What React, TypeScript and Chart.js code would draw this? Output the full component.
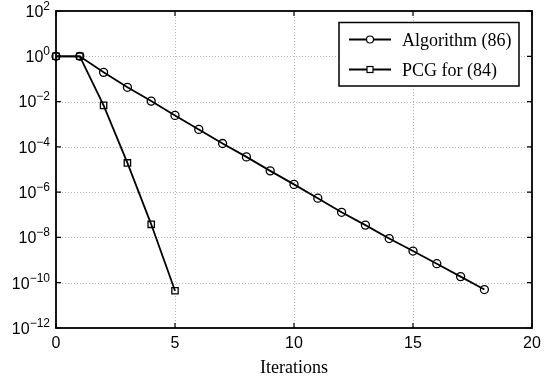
import React, { useEffect, useRef } from 'react';
import { Chart, registerables } from 'chart.js';

Chart.register(...registerables);

const algorithmIterations = [0, 1, 2, 3, 4, 5, 6, 7, 8, 9, 10, 11, 12, 13, 14, 15, 16, 17, 18];
const algorithmValues = [
  1, 1, 0.195, 0.0427, 0.0105, 2.45e-3, 5.9e-4, 1.41e-4, 3.6e-5, 8.7e-6, 2.2e-6,
  5.4e-7, 1.29e-7, 3.5e-8, 8.9e-9, 2.5e-9, 6.9e-10, 1.86e-10, 5.0e-11,
];
const pcgIterations = [0, 1, 2, 3, 4, 5];
const pcgValues = [1, 1, 6.8e-3, 1.95e-5, 3.8e-8, 4.4e-11];

const xTickValues = [0, 5, 10, 15, 20];
const yTickExponents = [2, 0, -2, -4, -6, -8, -10, -12];
const seriesLabels = ['Algorithm (86)', 'PCG for (84)'];
const xAxisTitle = 'Iterations';

const sup = (n: number) => String(n).replace('-', '\u2212');

const decorPlugin = {
  id: 'decor',
  beforeDatasetsDraw(chart: any) {
    const { ctx, chartArea } = chart;
    const { left, right, top, bottom } = chartArea;
    const xs = chart.scales.x;
    const ys = chart.scales.y;
    ctx.save();
    // grid
    ctx.strokeStyle = '#b5b5b5';
    ctx.lineWidth = 1;
    ctx.setLineDash([1, 2]);
    xTickValues.forEach((v) => {
      const px = Math.round(xs.getPixelForValue(v)) + 0.5;
      if (px <= left + 1 || px >= right - 1) return;
      ctx.beginPath();
      ctx.moveTo(px, top);
      ctx.lineTo(px, bottom);
      ctx.stroke();
    });
    yTickExponents.forEach((e) => {
      const py = Math.round(ys.getPixelForValue(Math.pow(10, e))) + 0.5;
      if (py <= top + 1 || py >= bottom - 1) return;
      ctx.beginPath();
      ctx.moveTo(left, py);
      ctx.lineTo(right, py);
      ctx.stroke();
    });
    ctx.setLineDash([]);
    // ticks (inward)
    ctx.strokeStyle = '#000';
    ctx.lineWidth = 1.2;
    const tl = 5;
    xTickValues.forEach((v) => {
      const px = xs.getPixelForValue(v);
      ctx.beginPath();
      ctx.moveTo(px, bottom);
      ctx.lineTo(px, bottom - tl);
      ctx.moveTo(px, top);
      ctx.lineTo(px, top + tl);
      ctx.stroke();
    });
    yTickExponents.forEach((e) => {
      const py = ys.getPixelForValue(Math.pow(10, e));
      ctx.beginPath();
      ctx.moveTo(left, py);
      ctx.lineTo(left + tl, py);
      ctx.moveTo(right, py);
      ctx.lineTo(right - tl, py);
      ctx.stroke();
    });
    // frame
    ctx.lineWidth = 1.8;
    ctx.strokeRect(left, top, right - left, bottom - top);
    // y labels
    ctx.fillStyle = '#000';
    yTickExponents.forEach((e) => {
      const py = ys.getPixelForValue(Math.pow(10, e));
      const base = '10';
      const ex = sup(e);
      ctx.font = '16px "Liberation Sans", Arial, sans-serif';
      const wb = ctx.measureText(base).width;
      ctx.font = '12px "Liberation Sans", Arial, sans-serif';
      const we = ctx.measureText(ex).width;
      const x0 = left - 6 - wb - we;
      ctx.textAlign = 'left';
      ctx.textBaseline = 'middle';
      ctx.font = '16px "Liberation Sans", Arial, sans-serif';
      ctx.fillText(base, x0, py + 1.5);
      ctx.font = '12px "Liberation Sans", Arial, sans-serif';
      ctx.fillText(ex, x0 + wb, py - 4.5);
    });
    // x labels
    ctx.font = '16px "Liberation Sans", Arial, sans-serif';
    ctx.textAlign = 'center';
    ctx.textBaseline = 'alphabetic';
    xTickValues.forEach((v) => {
      const px = xs.getPixelForValue(v);
      ctx.fillText(String(v), px, bottom + 20);
    });
    // title
    ctx.font = '18px "Liberation Serif", "Times New Roman", serif';
    ctx.fillText(xAxisTitle, (left + right) / 2, bottom + 44.5);
    ctx.restore();
  },
  afterDatasetsDraw(chart: any) {
    const { ctx, chartArea } = chart;
    const bx = chartArea.right - 193;
    const by = chartArea.top + 11.5;
    const bw = 180;
    const bh = 63.5;
    ctx.save();
    ctx.fillStyle = '#fff';
    ctx.fillRect(bx, by, bw, bh);
    ctx.strokeStyle = '#000';
    ctx.lineWidth = 1.5;
    ctx.strokeRect(bx, by, bw, bh);
    chart.data.datasets.forEach((ds: any, i: number) => {
      const ry = by + 17 + i * 30;
      ctx.strokeStyle = '#000';
      ctx.lineWidth = 1.8;
      ctx.beginPath();
      ctx.moveTo(bx + 10, ry);
      ctx.lineTo(bx + 52, ry);
      ctx.stroke();
      ctx.lineWidth = 1.2;
      const cx = bx + 31;
      ctx.fillStyle = '#fff';
      if (ds.pointStyle === 'circle') {
        ctx.beginPath();
        ctx.arc(cx, ry, 3.5, 0, Math.PI * 2);
        ctx.fill();
        ctx.stroke();
      } else {
        ctx.fillRect(cx - 3, ry - 3, 6, 6);
        ctx.strokeRect(cx - 3, ry - 3, 6, 6);
      }
      ctx.fillStyle = '#000';
      ctx.font = '18px "Liberation Serif", "Times New Roman", serif';
      ctx.textAlign = 'left';
      ctx.textBaseline = 'alphabetic';
      ctx.fillText(ds.label, bx + 63, ry + 6);
    });
    ctx.restore();
  },
};

export default function App() {
  const ref = useRef<HTMLCanvasElement | null>(null);
  useEffect(() => {
    if (!ref.current) return;
    const chart = new Chart(ref.current, {
      type: 'line',
      data: {
        datasets: [
          {
            label: seriesLabels[0],
            data: algorithmIterations.map((x, i) => ({ x, y: algorithmValues[i] })),
            borderColor: '#000',
            borderWidth: 1.8,
            pointStyle: 'circle',
            pointRadius: 4,
            pointBorderWidth: 1.3,
            pointBackgroundColor: 'rgba(0,0,0,0)',
            pointBorderColor: '#000',
            fill: false,
            tension: 0,
            clip: false,
          } as any,
          {
            label: seriesLabels[1],
            data: pcgIterations.map((x, i) => ({ x, y: pcgValues[i] })),
            borderColor: '#000',
            borderWidth: 1.8,
            pointStyle: 'rect',
            pointRadius: 4.5,
            pointBorderWidth: 1.3,
            pointBackgroundColor: 'rgba(0,0,0,0)',
            pointBorderColor: '#000',
            fill: false,
            tension: 0,
            clip: false,
          } as any,
        ],
      },
      options: {
        animation: false,
        responsive: false,
        layout: { padding: { left: 56, right: 13, top: 11, bottom: 51 } },
        plugins: { legend: { display: false }, tooltip: { enabled: false } },
        scales: {
          x: { type: 'linear', min: 0, max: 20, display: false },
          y: { type: 'logarithmic', min: 1e-12, max: 1e2, display: false },
        },
      },
      plugins: [decorPlugin],
    });
    return () => chart.destroy();
  }, []);
  return (
    <div style={{ position: 'fixed', left: 0, top: 0, width: 545, height: 379, background: '#fff' }}>
      <canvas ref={ref} width={545} height={379} style={{ display: 'block' }} />
    </div>
  );
}
